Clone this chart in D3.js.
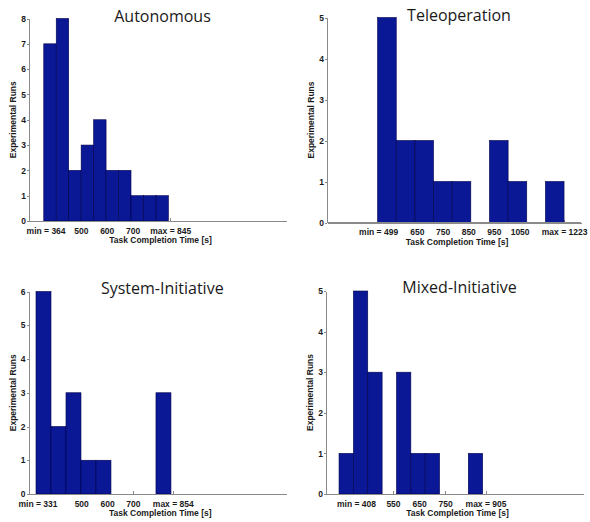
<!DOCTYPE html>
<html>
    <head>
        <script src="https://d3js.org/d3.v7.min.js"></script>
        <style>
            body { margin: 0; background: #fff; }
            svg { position: absolute; left: 0; top: 0; }
            .axis path, .axis line { fill: none; stroke: #8a8a8a; shape-rendering: crispEdges; }
            .axis text { font-family: "Liberation Sans", Arial, sans-serif; font-weight: bold; font-size: 8.5px; fill: #1a1a1a; }
            .lbl { font-family: "Liberation Sans", Arial, sans-serif; font-weight: bold; font-size: 8.5px; fill: #1a1a1a; }
            .ttl { font-family: "Open Sans", sans-serif; font-size: 16px; fill: #1a1a1a; }
        </style>
    </head>
    <body>
    <script>
        // chart values
        var titles = ['Autonomous', 'Teleoperation', 'System-Initiative', 'Mixed-Initiative']
        var counts = [
            [7, 8, 2, 3, 4, 2, 2, 1, 1, 1],
            [5, 2, 2, 1, 1, 0, 2, 1, 0, 1],
            [6, 2, 3, 1, 1, 0, 0, 0, 3],
            [1, 5, 3, 0, 3, 1, 1, 0, 0, 1]
        ]
        var binRange = [[357, 838], [497, 1223], [325, 847], [343, 894]]
        var xDomains = [[300, 1292], [300, 1289], [296, 1292], [293, 1279]]
        var yMax = [8, 5, 6, 5]
        var tickValues = [
            [364, 500, 600, 700, 845],
            [499, 650, 750, 850, 950, 1050, 1223],
            [331, 500, 600, 700, 854],
            [408, 550, 650, 750, 905]
        ]
        var tickLabels = [
            ['min = 364', '500', '600', '700', 'max = 845'],
            ['min = 499', '650', '750', '850', '950', '1050', 'max = 1223'],
            ['min = 331', '500', '600', '700', 'max = 854'],
            ['min = 408', '550', '650', '750', 'max = 905']
        ]
        var xTitle = 'Task Completion Time [s]'
        var yTitle = 'Experimental Runs'

        // panel boxes in pixels
        var boxes = [
            {l: 29, r: 286, t: 18.5, b: 221},
            {l: 327, r: 581, t: 17.5, b: 222.5},
            {l: 28.5, r: 286, t: 291.5, b: 494},
            {l: 326, r: 583, t: 291, b: 494}
        ]

        var svg = d3.select('body').append('svg')
            .attr('width', 590)
            .attr('height', 522)

        titles.forEach(function(title, i){
            var box = boxes[i]
            var c = counts[i]
            var x = d3.scaleLinear().domain(xDomains[i]).range([box.l, box.r])
            var y = d3.scaleLinear().domain([0, yMax[i]]).range([box.b, box.t])
            var bw = (binRange[i][1] - binRange[i][0]) / c.length

            var g = svg.append('g')

            // x axis, inward ticks (hidden behind bars)
            var xAxis = d3.axisBottom(x)
                .tickValues(tickValues[i])
                .tickFormat(function(d, k){ return tickLabels[i][k] })
                .tickSizeInner(-3)
                .tickSizeOuter(0)
            var gx = g.append('g').attr('class', 'axis')
                .attr('transform', 'translate(0,' + box.b + ')')
                .call(xAxis)
            gx.selectAll('text').attr('y', 6.5).attr('dy', '0.71em')

            var yAxis = d3.axisLeft(y)
                .ticks(yMax[i])
                .tickFormat(d3.format('d'))
                .tickSizeInner(2)
                .tickSizeOuter(0)
                .tickPadding(1)
            g.append('g').attr('class', 'axis')
                .attr('transform', 'translate(' + box.l + ',0)')
                .call(yAxis)

            // bars, one per bin
            var bins = c.map(function(d, k){
                return {n: d, x0: binRange[i][0] + bw * k, x1: binRange[i][0] + bw * (k + 1)}
            }).filter(function(b){ return b.n > 0 })

            g.selectAll('rect.bar')
                .data(bins)
                .enter()
                .append('rect')
                .attr('class', 'bar')
                .attr('x', function(b){ return x(b.x0) })
                .attr('width', function(b){ return x(b.x1) - x(b.x0) })
                .attr('y', function(b){ return y(b.n) })
                .attr('height', function(b){ return y(0) - y(b.n) })
                .attr('fill', '#0b1896')
                .attr('stroke', '#00004a')
                .attr('stroke-width', 0.6)

            // baseline on top of bars
            g.append('line')
                .attr('x1', box.l).attr('x2', box.r)
                .attr('y1', box.b).attr('y2', box.b)
                .attr('stroke', '#8a8a8a')
                .attr('shape-rendering', 'crispEdges')

            g.append('text').attr('class', 'lbl')
                .attr('x', (box.l + box.r) / 2 + 3)
                .attr('y', box.b + 22)
                .attr('text-anchor', 'middle')
                .text(xTitle)

            g.append('text').attr('class', 'lbl')
                .attr('transform', 'translate(' + (box.l - 13) + ',' + ((box.t + box.b) / 2) + ') rotate(-90)')
                .attr('text-anchor', 'middle')
                .text(yTitle)

            g.append('text').attr('class', 'ttl')
                .attr('x', (box.l + box.r) / 2 + 5)
                .attr('y', box.t + (i < 2 ? 3 : 2))
                .attr('text-anchor', 'middle')
                .text(title)
        })
    </script>
    </body>
</html>
